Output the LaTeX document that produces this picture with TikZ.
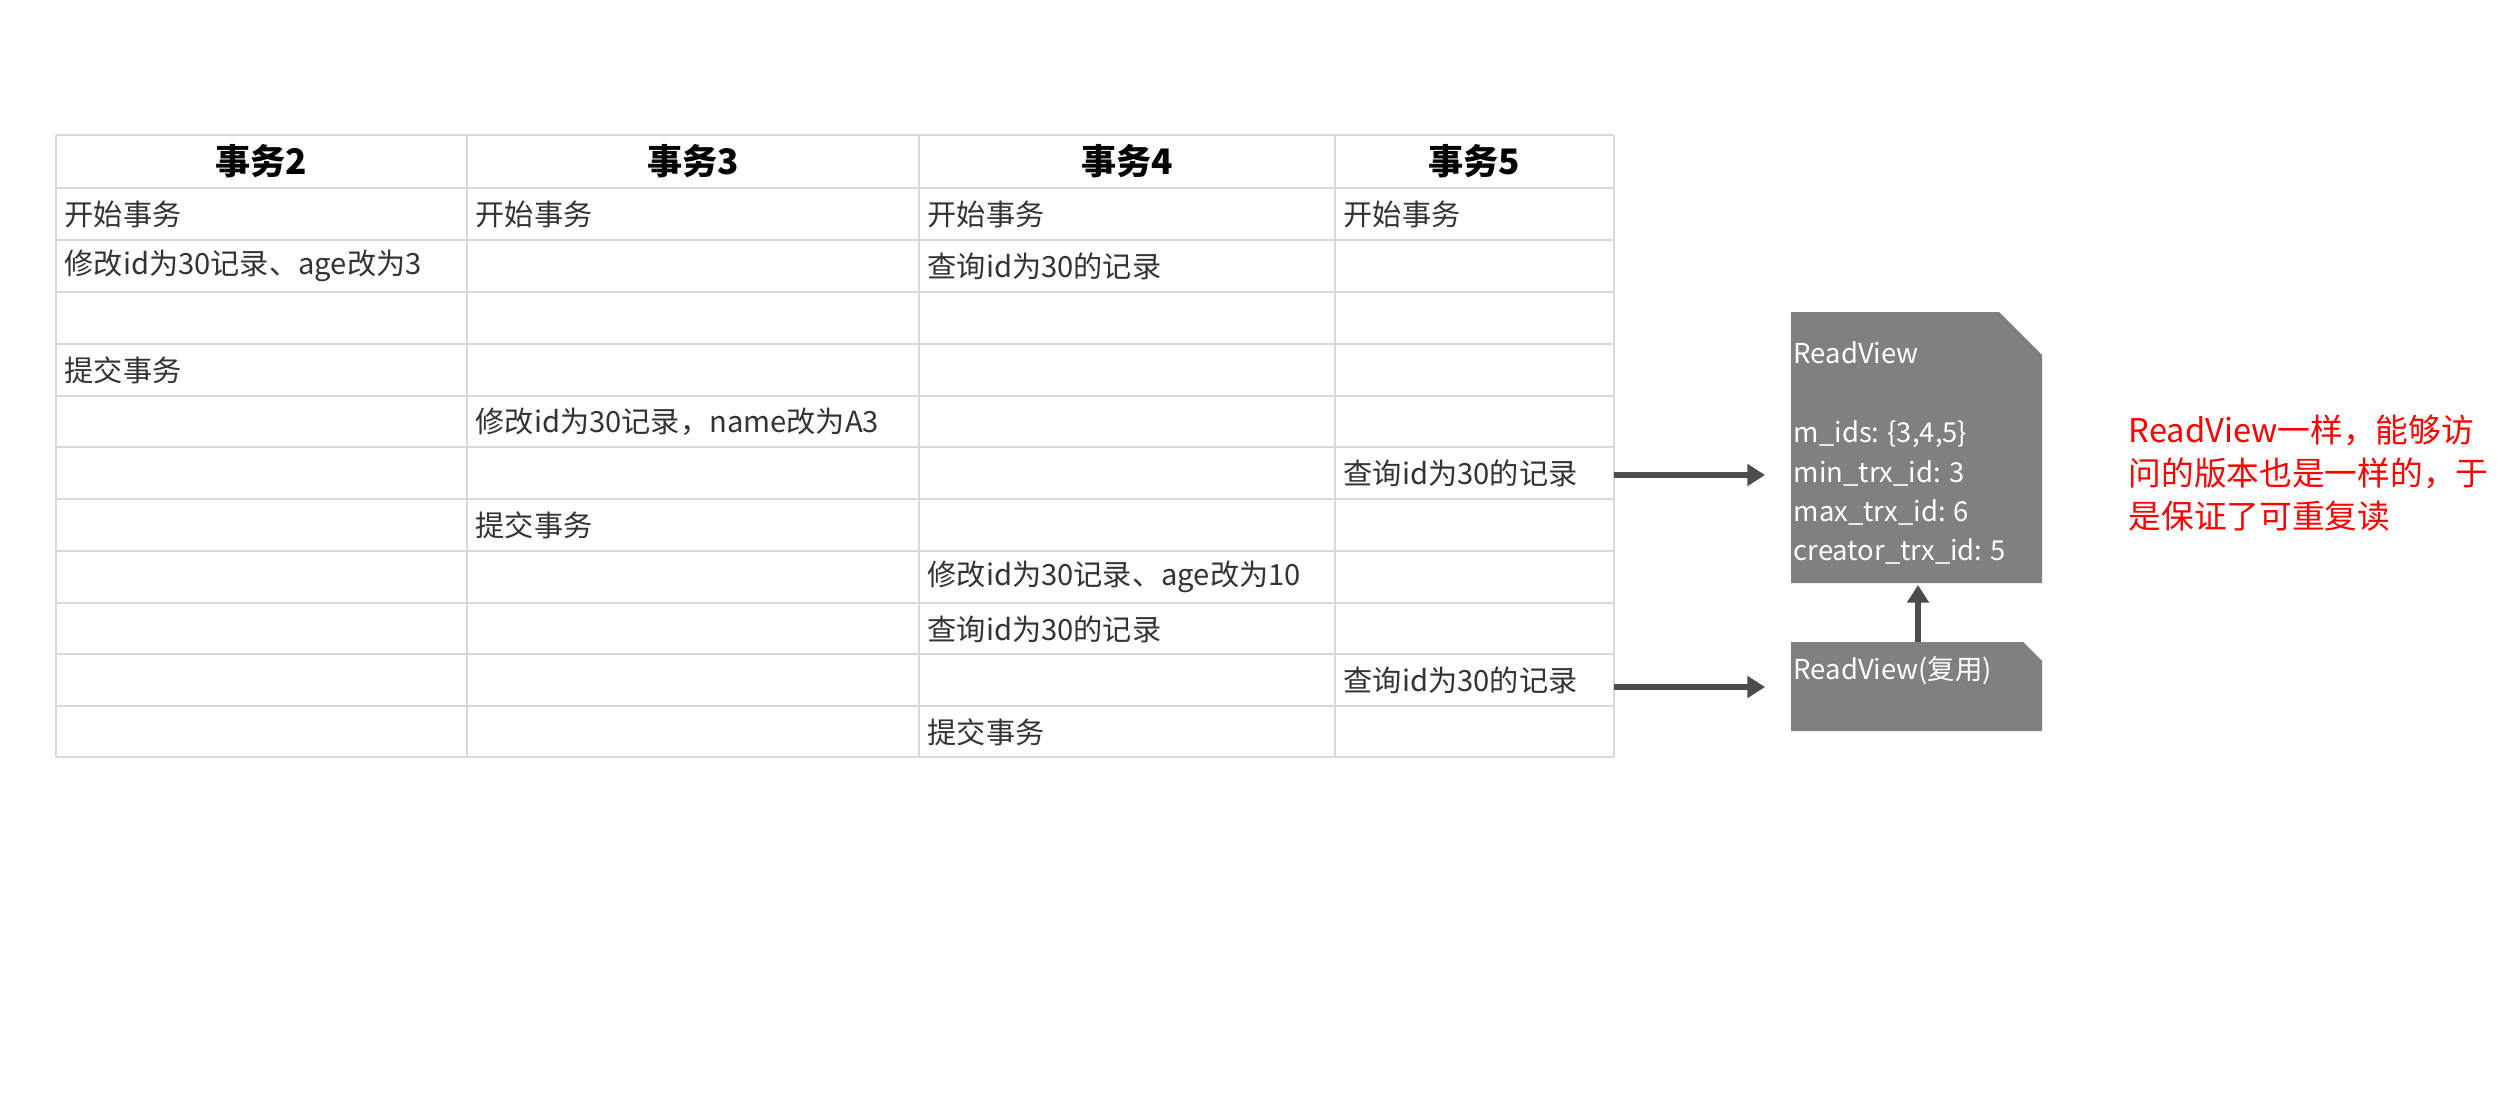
\documentclass[tikz,border=0pt]{standalone}
\usepackage{fontspec}
\setmainfont{Noto Sans CJK SC}
\usetikzlibrary{arrows.meta}
\tikzstyle{cell}=[anchor=west,inner sep=0pt,font=\fontsize{8.3}{10}\selectfont,text=black!80]
\tikzstyle{head}=[inner sep=0pt,font=\fontsize{10}{12}\selectfont\bfseries]
\tikzstyle{rv_text}=[anchor=west,inner sep=0pt,text=white,font=\fontsize{7.8}{9}\selectfont]
\tikzstyle{link}=[draw=black!70,line width=1.6pt,-{Triangle[length=5pt,width=6pt]}]

\begin{document}
\begin{tikzpicture}[x=0.01cm,y=-0.01cm]
    \useasboundingbox (0,0) rectangle (2498,1096);
    % table grid
    \foreach \y in {135,188,240,292,344,396,447,499,551,603,654,706,757}
        \draw[black!15,line width=0.6pt] (56,\y) -- (1614,\y);
    \foreach \x in {56,467,919,1335,1614}
        \draw[black!15,line width=0.6pt] (\x,135) -- (\x,757);

    \node (h2) at (261,161) [head] {事务2};
    \node (h3) at (693,161) [head] {事务3};
    \node (h4) at (1127,161) [head] {事务4};
    \node (h5) at (1474,161) [head] {事务5};

    \node (a1) at (64,214) [cell] {开始事务};
    \node (b1) at (475,214) [cell] {开始事务};
    \node (c1) at (927,214) [cell] {开始事务};
    \node (d1) at (1343,214) [cell] {开始事务};
    \node (a2) at (64,266) [cell] {修改id为30记录、age改为3};
    \node (c2) at (927,266) [cell] {查询id为30的记录};
    \node (a4) at (64,370) [cell] {提交事务};
    \node (b5) at (475,422) [cell] {修改id为30记录，name改为A3};
    \node (d6) at (1343,473) [cell] {查询id为30的记录};
    \node (b7) at (475,525) [cell] {提交事务};
    \node (c8) at (927,577) [cell] {修改id为30记录、age改为10};
    \node (c9) at (927,629) [cell] {查询id为30的记录};
    \node (d10) at (1343,680) [cell] {查询id为30的记录};
    \node (c11) at (927,732) [cell] {提交事务};

    % readview boxes
    \fill[black!50] (1791,312) -- (1999,312) -- (2042,355) -- (2042,583) -- (1791,583) -- cycle;
    \fill[black!50] (1791,642) -- (2023,642) -- (2042,661) -- (2042,731) -- (1791,731) -- cycle;
    \coordinate (rv1_w) at (1765,475);
    \coordinate (rv1_s) at (1918,585);
    \coordinate (rv2_w) at (1765,687);
    \coordinate (rv2_n) at (1918,642);

    \node (rv1) at (1793,353) [rv_text] {ReadView};
    \node (mids) at (1793,434) [rv_text] {m\_ids: \{3,4,5\}};
    \node (mint) at (1793,473) [rv_text] {min\_trx\_id: 3};
    \node (maxt) at (1793,512) [rv_text] {max\_trx\_id: 6};
    \node (cret) at (1793,551) [rv_text] {creator\_trx\_id: 5};
    \node (rv2) at (1793,671) [rv_text] {ReadView(复用)};

    \draw[link] (1614,475) -- (rv1_w);
    \draw[link] (1614,687) -- (rv2_w);
    \draw[link] (rv2_n) -- (rv1_s);

    \node (note) at (2128,473) [anchor=west,inner sep=0pt,text=red,align=left,
        font=\fontsize{9.3}{12.2}\selectfont] {ReadView一样，能够访\\问的版本也是一样的，于\\是保证了可重复读};
\end{tikzpicture}
\end{document}
